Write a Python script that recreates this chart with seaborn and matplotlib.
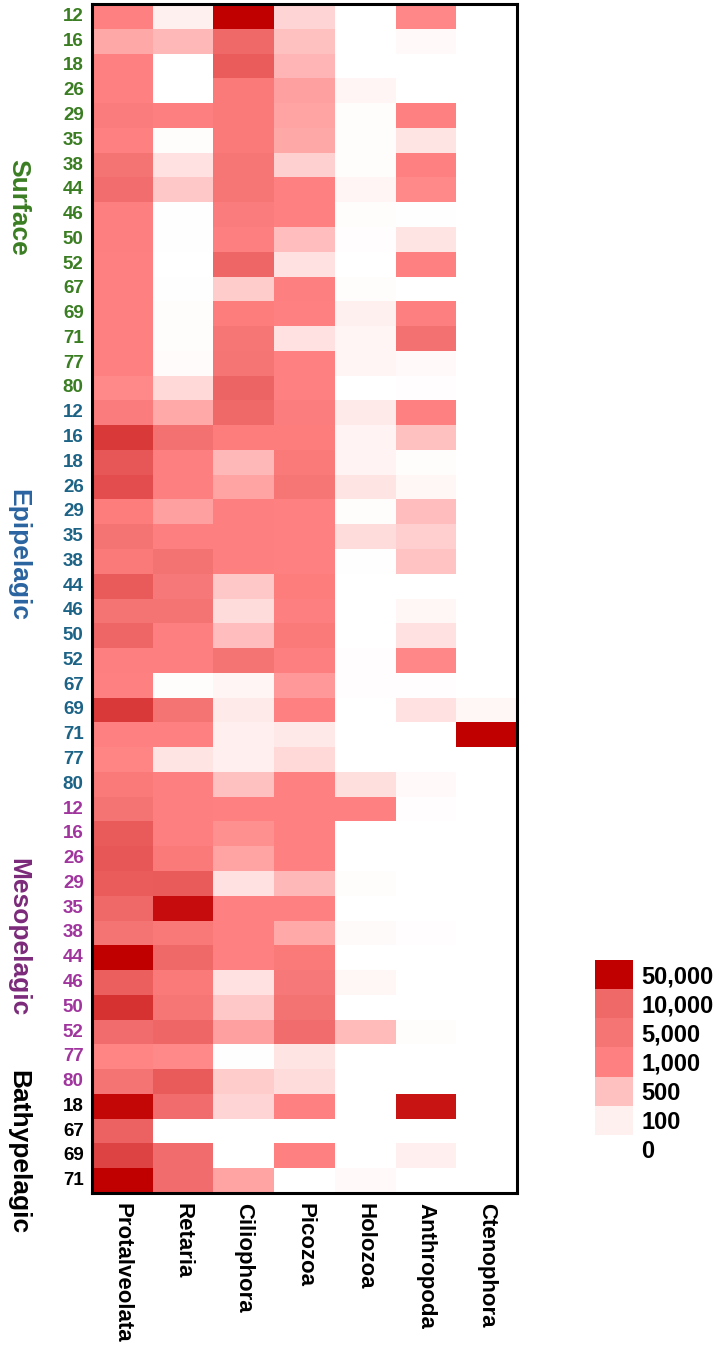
import numpy as np
import pandas as pd
import matplotlib
matplotlib.use("Agg")
import matplotlib.pyplot as plt
import matplotlib.colors as mcolors
import seaborn as sns

# Row labels (depth codes) per water layer
surface_depths = [12, 16, 18, 26, 29, 35, 38, 44, 46, 50, 52, 67, 69, 71, 77, 80]
epi_depths = [12, 16, 18, 26, 29, 35, 38, 44, 46, 50, 52, 67, 69, 71, 77, 80]
meso_depths = [12, 16, 26, 29, 35, 38, 44, 46, 50, 52, 77, 80]
bathy_depths = [18, 67, 69, 71]

taxa = ['Protalveolata', 'Retaria', 'Ciliophora', 'Picozoa', 'Holozoa', 'Anthropoda', 'Ctenophora']

# Abundances, rows ordered surface -> epi -> meso -> bathy
protalveolata = [1000, 690, 1000, 1000, 2500, 1100, 6000, 8000, 1200, 1200, 1000, 1000, 1000, 1000, 1000, 930,
                 2500, 28000, 16500, 20000, 2000, 6000, 3000, 16000, 6000, 11000, 1200, 1000, 28000, 1000, 970, 3000,
                 6000, 16000, 17000, 15000, 10500, 6000, 50000, 14000, 31000, 9000, 960, 6000,
                 47000, 13000, 24000, 50000]
retaria = [100, 560, 0, 0, 1200, 20, 230, 440, 10, 10, 0, 8, 20, 20, 30, 300,
           680, 7000, 1200, 1300, 750, 1200, 6500, 4000, 6000, 1300, 1500, 20, 6000, 1000, 200, 1300,
           1300, 1200, 3000, 15500, 45000, 3500, 10500, 3000, 4500, 11000, 930, 15500,
           9000, 0, 9000, 9000]
ciliophora = [50000, 10500, 15000, 3000, 3000, 3000, 4500, 4500, 2500, 1500, 11000, 400, 2000, 4500, 5000, 12000,
              10000, 2000, 560, 720, 1500, 1200, 1500, 440, 270, 520, 6000, 70, 150, 110, 110, 500,
              1000, 875, 720, 230, 1000, 1000, 1000, 230, 440, 750, 10, 400,
              330, 0, 0, 720]
picozoa = [330, 500, 580, 750, 720, 690, 370, 1100, 1100, 530, 230, 1200, 1000, 230, 1000, 1000,
           2200, 2000, 3000, 4500, 1000, 1000, 1100, 2000, 1300, 3000, 1300, 810, 1000, 170, 300, 1000,
           1000, 1000, 1000, 560, 1000, 680, 3000, 4000, 6500, 9000, 200, 270,
           1000, 0, 1000, 0]
holozoa = [0, 0, 0, 70, 20, 20, 20, 70, 20, 15, 0, 20, 100, 70, 70, 3,
           150, 80, 80, 200, 20, 270, 10, 0, 2, 2, 15, 15, 2, 0, 2, 250,
           1000, 2, 0, 20, 0, 35, 3, 60, 3, 550, 0, 0,
           0, 0, 0, 40]
anthropoda = [950, 40, 3, 0, 1000, 200, 1000, 930, 10, 200, 1000, 3, 1300, 7000, 40, 15,
              1000, 500, 20, 60, 520, 380, 470, 0, 60, 230, 950, 15, 230, 2, 0, 40,
              15, 0, 0, 0, 0, 15, 0, 0, 0, 20, 0, 0,
              42000, 0, 110, 0]
ctenophora = [0, 0, 0, 0, 3, 0, 0, 0, 0, 0, 0, 0, 0, 0, 0, 0,
              0, 0, 0, 3, 0, 0, 0, 0, 0, 0, 0, 0, 60, 50000, 0, 0,
              0, 0, 0, 0, 0, 0, 0, 0, 0, 0, 0, 0,
              0, 0, 0, 0]

# Legend levels and colours
levels = [0, 100, 500, 1000, 5000, 10000, 50000]
level_labels = ['0', '100', '500', '1,000', '5,000', '10,000', '50,000']
level_colors = ['#FFFFFF', '#FFF0F0', '#FFC0C0', '#FF8080', '#F57575', '#F06A6A', '#C00000']

groups = ['Surface', 'Epipelagic', 'Mesopelagic', 'Bathypelagic']
group_tick_colors = ['#3A7D22', '#1D6386', '#A0359E', '#000000']
group_label_colors = ['#3A7D22', '#2A64A0', '#7B2A7A', '#000000']

sns.set_style('white')
plt.rcParams['font.family'] = ['Liberation Sans', 'DejaVu Sans']
plt.rcParams['font.weight'] = 'bold'
plt.rcParams['text.color'] = 'black'
plt.rcParams['xtick.color'] = 'black'
plt.rcParams['ytick.color'] = 'black'

depths = surface_depths + epi_depths + meso_depths + bathy_depths
row_group = [0] * len(surface_depths) + [1] * len(epi_depths) + [2] * len(meso_depths) + [3] * len(bathy_depths)

df = pd.DataFrame({
    'Protalveolata': protalveolata, 'Retaria': retaria, 'Ciliophora': ciliophora,
    'Picozoa': picozoa, 'Holozoa': holozoa, 'Anthropoda': anthropoda, 'Ctenophora': ctenophora,
})
df.index = [str(d) for d in depths]

# piecewise colour scale: each legend step gets equal share of the colormap
pos = np.linspace(0, 1, len(levels))
cmap = mcolors.LinearSegmentedColormap.from_list('abund', list(zip(pos, level_colors)))
norm = mcolors.FuncNorm((lambda x: np.interp(x, levels, pos), lambda y: np.interp(y, pos, levels)),
                        vmin=0, vmax=50000)

fig = plt.figure(figsize=(7.17, 13.45), dpi=100)
ax = fig.add_axes([0.1283, 0.1130, 0.5928, 0.8840])
sns.heatmap(df, cmap=cmap, norm=norm, cbar=False, ax=ax, xticklabels=True, yticklabels=True)

for s in ax.spines.values():
    s.set_visible(True)
    s.set_color('black')
    s.set_linewidth(2.2)

ax.tick_params(axis='both', length=0)
ax.tick_params(axis='y', pad=6)
ax.tick_params(axis='x', pad=7)
ax.set_yticklabels(df.index, rotation=0, fontsize=13.5, fontweight='bold')
for lab, g in zip(ax.get_yticklabels(), row_group):
    lab.set_color(group_tick_colors[g])
ax.set_xticklabels(taxa, rotation=-90, fontsize=16, fontweight='bold', ha='center', va='top',
                   color='black')

# layer names on the far left
group_y = [8.2, 22.25, 37.67, 46.35]
for name, y, c in zip(groups, group_y, group_label_colors):
    ax.text(-0.174, y, name, transform=ax.get_yaxis_transform(), rotation=-90,
            ha='center', va='center', fontsize=19, fontweight='bold', color=c, clip_on=False)

# legend as a small stacked heatmap
lax = fig.add_axes([0.8298, 0.1346, 0.0530, 0.1517])
leg = pd.DataFrame({'v': levels[::-1]}, index=level_labels[::-1])
sns.heatmap(leg, cmap=cmap, norm=norm, cbar=False, ax=lax, xticklabels=False, yticklabels=True)
lax.yaxis.tick_right()
lax.tick_params(axis='y', length=0, pad=6)
lax.set_yticklabels(level_labels[::-1], rotation=0, fontsize=17, fontweight='bold', color='black')
lax.set_ylabel('')

fig.savefig('out.png', dpi=100)
